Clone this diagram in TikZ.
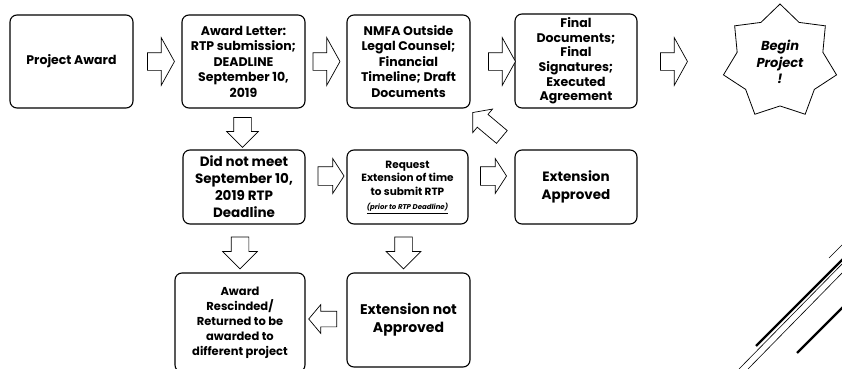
\documentclass[tikz,border=0pt]{standalone}
\usepackage{fontspec}
\setmainfont{Poppins}
\usetikzlibrary{shapes.geometric,shapes.arrows,positioning}
\tikzset{
  basic/.style    = {draw, rectangle, rounded corners=7pt, line width=1.1pt,
                     align=center, inner sep=1pt},
  top box/.style  = {basic, minimum width=123pt, minimum height=93pt,
                     font=\fontsize{12.5}{15.5}\selectfont\bfseries},
  mid box/.style  = {basic, minimum width=122pt, minimum height=74pt,
                     font=\fontsize{13.5}{17}\selectfont\bfseries},
  low box/.style  = {basic, minimum height=94pt,
                     font=\fontsize{11}{15}\selectfont\bfseries},
  blockarrow/.style = {draw, single arrow, fill=white, line width=0.7pt,
                     inner xsep=0pt, outer sep=0pt, single arrow head indent=0pt},
  harrow/.style   = {blockarrow, inner ysep=8.5pt, single arrow head extend=15pt,
                     minimum width=47pt, minimum height=27pt, single arrow tip angle=122},
  marrow/.style   = {blockarrow, inner ysep=9pt, single arrow head extend=8pt,
                     minimum width=34pt, minimum height=26pt, single arrow tip angle=114},
  varrow/.style   = {blockarrow, rotate=-90, inner ysep=8.5pt, single arrow head extend=8.5pt,
                     minimum width=34pt, minimum height=32pt, single arrow tip angle=90},
  larrow/.style   = {blockarrow, rotate=180, inner ysep=7.5pt, single arrow head extend=6.5pt,
                     minimum width=28pt, minimum height=28pt, single arrow tip angle=100}
}

\begin{document}
\begin{tikzpicture}[x=1pt, y=1pt]
\useasboundingbox (0,0) rectangle (842,368);
\clip (0,0) rectangle (842,368);

% first row: the way from the award to the start
\node[top box] (award) at (71.5,306.5) {Project Award};
\node[top box] (letter) at (243.5,306.5) {Award Letter:\\RTP submission;\\DEADLINE\\September 10,\\2019};
\node[top box] (nmfa) at (408.5,306.5) {NMFA Outside\\Legal Counsel;\\Financial\\Timeline; Draft\\Documents};
\node[top box, minimum width=122pt, minimum height=94pt, font=\fontsize{12.5}{14.6}\selectfont\bfseries]
  (final) at (576,307) {Final\\Documents;\\Final\\Signatures;\\Executed\\Agreement};
\node[draw, star, star points=7, star point ratio=1.32, minimum size=116pt, inner sep=0pt,
  line width=0.8pt, align=center, font=\fontsize{13}{16.5}\selectfont\bfseries\itshape]
  (begin) at (780,306) {Begin\\Project\\!};

% second row: missed deadline
\node[mid box] (missed) at (244,181) {Did not meet\\September 10,\\2019 RTP\\Deadline};
\node[mid box, minimum width=121pt, font=\fontsize{10.5}{13.5}\selectfont\bfseries]
  (request) at (407.5,181) {Request\\Extension of time\\to submit RTP\\[1pt]
  {\fontsize{7}{8}\selectfont\itshape\underline{(prior to RTP Deadline)}}};
\node[mid box, font=\fontsize{13.5}{18}\selectfont\bfseries] (approved) at (576,181) {Extension\\Approved};

% third row: no extension
\node[low box, minimum width=130pt, minimum height=99pt, font=\fontsize{11.5}{15}\selectfont\bfseries]
  (rescind) at (240,45.5) {Award\\Rescinded/\\Returned to be\\awarded to\\different project};
\node[low box, minimum width=123pt, font=\fontsize{14}{18}\selectfont\bfseries]
  (denied) at (408.5,48) {Extension not\\Approved};

% block arrows between the boxes
\node[harrow] (a1) at (158.5,306.5) {};
\node[harrow] (a2) at (324,306.5) {};
\node[harrow] (a3) at (499.5,306.5) {};
\node[harrow] (a4) at (671.5,306.5) {};
\node[marrow] (m1) at (328,192) {};
\node[marrow] (m2) at (490.5,192) {};
\node[varrow, minimum width=31pt, single arrow head extend=7pt, minimum height=30pt] (d1) at (242.5,240) {};
\node[varrow] (d2) at (240,119.5) {};
\node[varrow] (d3) at (403.5,119.5) {};
\node[larrow] (l1) at (326,49) {};
\node[blockarrow, rotate=140, inner ysep=8pt, single arrow head extend=7pt,
  minimum width=30pt, minimum height=38pt, single arrow tip angle=100] (back) at (490,241) {};

% corner strokes
\draw[line width=0.6pt] (829,110) -- (845,126);
\draw[line width=2.2pt] (756,22) -- (845,111);
\draw[line width=0.6pt] (739,-1) -- (845,107);
\draw[line width=0.6pt] (748,-1) -- (845,98);
\draw[line width=2.2pt] (797,15) -- (845,63);
\end{tikzpicture}
\end{document}
